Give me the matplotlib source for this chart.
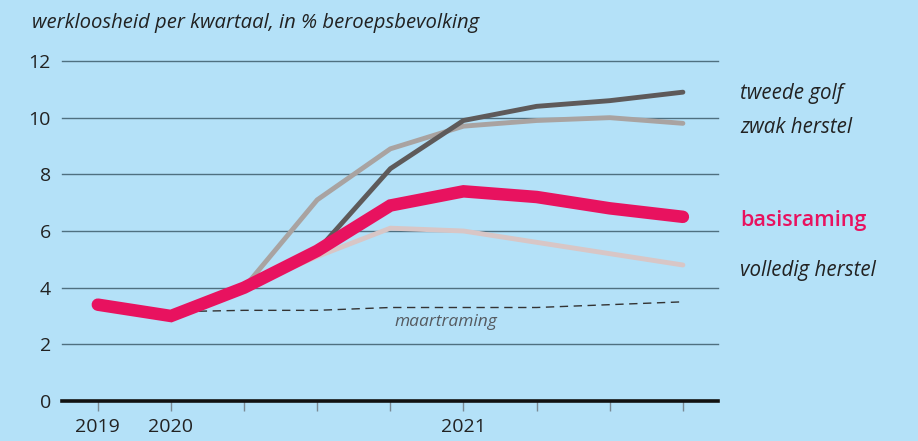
import matplotlib.pyplot as plt

# quarters: 2019 Q4 .. 2021 Q4
quarters = ['2019', '2020', '', '', '', '2021', '', '', '']
basisraming = [3.4, 3.0, 4.0, 5.3, 6.9, 7.4, 7.2, 6.8, 6.5]
tweede_golf = [None, None, 4.0, 5.3, 8.2, 9.9, 10.4, 10.6, 10.9]
zwak_herstel = [None, None, 4.0, 7.1, 8.9, 9.7, 9.9, 10.0, 9.8]
volledig_herstel = [None, None, 4.0, 5.1, 6.1, 6.0, 5.6, 5.2, 4.8]
maartraming = [None, 3.15, 3.2, 3.2, 3.3, 3.3, 3.3, 3.4, 3.5]
yticks = [0, 2, 4, 6, 8, 10, 12]

BG = '#b4e1f8'
PINK = '#e8125f'


def series(vals):
    xs = [i for i, v in enumerate(vals) if v is not None]
    ys = [v for v in vals if v is not None]
    return xs, ys


def main():
    plt.rcParams['font.family'] = ['Open Sans', 'DejaVu Sans']
    fig = plt.figure(figsize=(9.18, 4.41), dpi=100, facecolor=BG)
    ax = fig.add_axes([62 / 918, 40 / 441, 656 / 918, 340 / 441])
    ax.set_facecolor(BG)
    ax.set_xlim(-0.49, 8.48)
    ax.set_ylim(0, 12)

    for y in yticks[1:]:
        ax.axhline(y, color='#4f7080', lw=1.0, zorder=1, clip_on=False)
    ax.axhline(0, color='#111111', lw=2.6, zorder=6, clip_on=False)

    xs, ys = series(maartraming)
    ax.plot(xs, ys, color='#333333', lw=1.0, dashes=(6, 4), zorder=2)
    ax.text(4.76, 2.79, 'maartraming', style='italic', fontsize=12.5,
            color='#555a60', ha='center', va='center')

    xs, ys = series(volledig_herstel)
    ax.plot(xs, ys, color='#d8c6c6', lw=3.5, solid_capstyle='round', zorder=3)
    xs, ys = series(zwak_herstel)
    ax.plot(xs, ys, color='#a9a3a1', lw=3.5, solid_capstyle='round', zorder=3)
    xs, ys = series(tweede_golf)
    ax.plot(xs, ys, color='#5e5a5a', lw=3.5, solid_capstyle='round', zorder=4)
    xs, ys = series(basisraming)
    ax.plot(xs, ys, color=PINK, lw=9, solid_capstyle='round',
            solid_joinstyle='miter', zorder=5)

    ax.set_yticks(yticks)
    ax.set_yticklabels([str(y) for y in yticks], fontsize=14, color='#222222')
    ax.set_xticks(range(len(quarters)))
    ax.set_xticklabels(quarters, fontsize=14, color='#222222')
    ax.tick_params(axis='y', length=0, pad=8)
    ax.tick_params(axis='x', length=7, width=1, color='#7a8a95', pad=5)
    for s in ax.spines.values():
        s.set_visible(False)

    # labels at line ends
    lab = dict(fontsize=14.8, style='italic', color='#222222', va='center',
               clip_on=False)
    ax.text(8.78, 10.85, 'tweede golf', **lab)
    ax.text(8.78, 9.65, 'zwak herstel', **lab)
    ax.text(8.78, 4.6, 'volledig herstel', **lab)
    ax.text(8.78, 6.37, 'basisraming', fontsize=15.5, fontweight='semibold',
            color=PINK, va='center', clip_on=False)

    fig.text(32 / 918, 1 - 23 / 441, 'werkloosheid per kwartaal, in % beroepsbevolking',
             style='italic', fontsize=14.6, color='#222222', va='center')

    fig.savefig('out.png', dpi=100, facecolor=BG)


if __name__ == '__main__':
    main()
